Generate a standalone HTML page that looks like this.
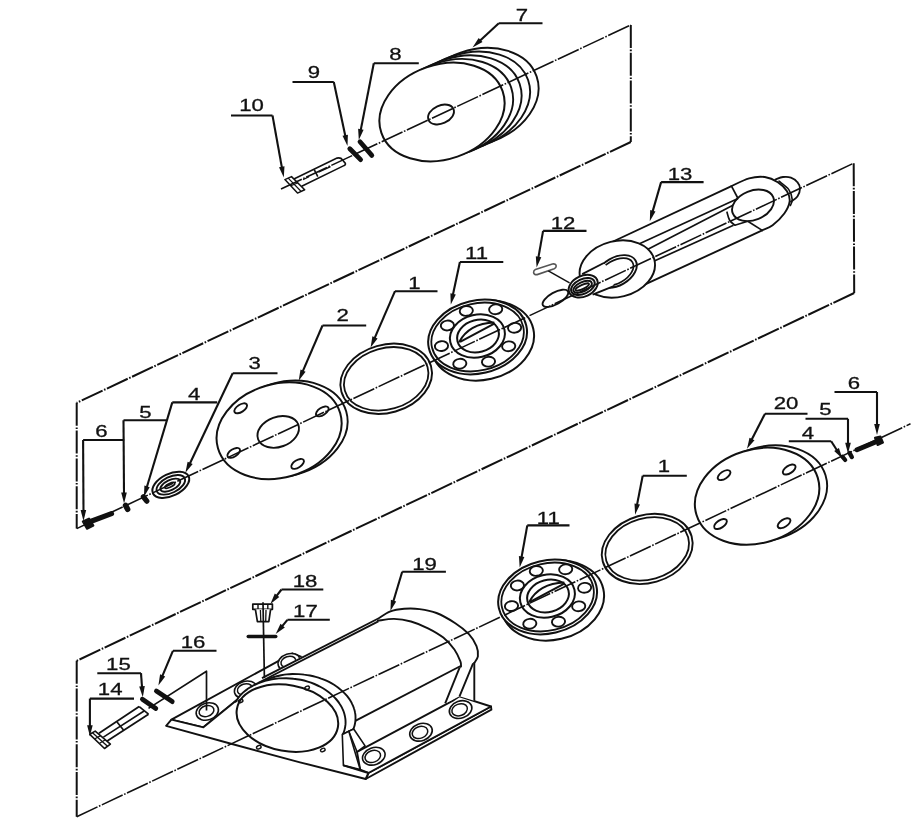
<!DOCTYPE html>
<html lang="en"><head><meta charset="utf-8"><title>Exploded view</title>
<style>html,body{margin:0;padding:0;background:#fff}body{width:920px;height:823px;overflow:hidden}svg{display:block;filter:grayscale(1)}text{font-family:"Liberation Sans",sans-serif;font-size:16.8px;fill:#111;stroke:#111;stroke-width:.3px}</style>
</head><body>
<svg width="920" height="823" viewBox="0 0 920 823">
<rect width="920" height="823" fill="#fff"/>
<g id="top">
<ellipse cx="476" cy="97.2" rx="64.1" ry="47.2" transform="rotate(-19 476 97.2)" fill="#fff" stroke="#111" stroke-width="1.9"/>
<ellipse cx="467.5" cy="100.9" rx="64.1" ry="47.2" transform="rotate(-19 467.5 100.9)" fill="#fff" stroke="#111" stroke-width="1.9"/>
<ellipse cx="459" cy="104.6" rx="64.1" ry="47.2" transform="rotate(-19 459 104.6)" fill="#fff" stroke="#111" stroke-width="1.9"/>
<ellipse cx="450.5" cy="108.3" rx="64.1" ry="47.2" transform="rotate(-19 450.5 108.3)" fill="#fff" stroke="#111" stroke-width="1.9"/>
<ellipse cx="442" cy="112" rx="64.1" ry="47.2" transform="rotate(-19 442 112)" fill="#fff" stroke="#111" stroke-width="2"/>
<ellipse cx="441" cy="114.5" rx="13.6" ry="9" transform="rotate(-24 441 114.5)" fill="none" stroke="#111" stroke-width="1.9"/>
<line x1="349.8" y1="148.8" x2="360.6" y2="159.6" stroke="#111" stroke-width="4.8" stroke-linecap="round"/>
<line x1="360" y1="141.8" x2="371.8" y2="155.4" stroke="#111" stroke-width="4.8" stroke-linecap="round"/>
<path d="M284.9 179.6 L291.5 176.6 L304.7 189.8 L297.5 193.1 Z" fill="none" stroke="#111" stroke-width="1.5" stroke-linejoin="round"/>
<line x1="288.2" y1="178.1" x2="301.2" y2="191.5" stroke="#111" stroke-width="1.2"/>
<line x1="291" y1="185.8" x2="298" y2="182.8" stroke="#111" stroke-width="1.2"/>
<path d="M293.9 179 L337 158.1 Q340.8 157.2 342.6 160 L345.4 163.4 Q345.8 164.8 344.4 165.4 L301.7 186.2" fill="none" stroke="#111" stroke-width="1.6"/>
<line x1="314.2" y1="169.6" x2="317.8" y2="176.6" stroke="#111" stroke-width="1.6"/>
<line x1="318.5" y1="172.2" x2="330.5" y2="166.6" stroke="#111" stroke-width="1.4"/>
<line x1="303" y1="179.6" x2="309" y2="176.8" stroke="#111" stroke-width="1.2"/>
<text transform="translate(522 21.4) scale(1.32 1)" text-anchor="middle">7</text>
<line x1="498.8" y1="23.2" x2="542.5" y2="23.2" stroke="#111" stroke-width="2.1"/>
<line x1="498.8" y1="23.2" x2="479.1" y2="41.4" stroke="#111" stroke-width="2.1"/>
<path d="M472.5 47.5 L478.7 38 L482.5 42.1 Z" fill="#111"/>
<text transform="translate(395.3 60.3) scale(1.32 1)" text-anchor="middle">8</text>
<line x1="373.8" y1="63.2" x2="418.8" y2="63.2" stroke="#111" stroke-width="2.1"/>
<line x1="373.8" y1="63.2" x2="360.5" y2="131.2" stroke="#111" stroke-width="2.1"/>
<path d="M358.8 140 L358.1 128.7 L363.6 129.7 Z" fill="#111"/>
<text transform="translate(314 77.6) scale(1.32 1)" text-anchor="middle">9</text>
<line x1="292.5" y1="82" x2="333.8" y2="82" stroke="#111" stroke-width="2.1"/>
<line x1="333.8" y1="82" x2="345.6" y2="137.2" stroke="#111" stroke-width="2.1"/>
<path d="M347.5 146 L342.5 135.8 L347.9 134.7 Z" fill="#111"/>
<text transform="translate(251.5 110.9) scale(1.32 1)" text-anchor="middle">10</text>
<line x1="231" y1="115.5" x2="272.5" y2="115.5" stroke="#111" stroke-width="2.1"/>
<line x1="272.5" y1="115.5" x2="282.1" y2="168.6" stroke="#111" stroke-width="2.1"/>
<path d="M283.8 177.5 L279 167.2 L284.5 166.2 Z" fill="#111"/>
</g>
<g id="mid">
<line x1="88.5" y1="522.3" x2="111.5" y2="513.6" stroke="#111" stroke-width="5.2" stroke-linecap="round"/>
<path d="M82.8 521.5 L89 518.6 L93.4 525.6 L87 528.8 Z" fill="#111" stroke="#111" stroke-width="2" stroke-linejoin="round"/>
<line x1="125.6" y1="505.4" x2="127.6" y2="509.2" stroke="#111" stroke-width="5.6" stroke-linecap="round"/>
<line x1="143.4" y1="496.8" x2="146.8" y2="501.2" stroke="#111" stroke-width="5.2" stroke-linecap="round"/>
<ellipse cx="170.8" cy="484.8" rx="19.8" ry="11" transform="rotate(-26 170.8 484.8)" fill="#fff" stroke="#111" stroke-width="2"/>
<ellipse cx="170.8" cy="484.8" rx="15.4" ry="8" transform="rotate(-26 170.8 484.8)" fill="none" stroke="#111" stroke-width="1.9"/>
<ellipse cx="170.3" cy="485.2" rx="10.8" ry="5" transform="rotate(-26 170.3 485.2)" fill="none" stroke="#111" stroke-width="1.9"/>
<ellipse cx="169.8" cy="485.4" rx="5.4" ry="1.8" transform="rotate(-26 169.8 485.4)" fill="none" stroke="#111" stroke-width="1.8"/>
<ellipse cx="285.1" cy="429" rx="63.6" ry="46.8" transform="rotate(-16 285.1 429)" fill="#fff" stroke="#111" stroke-width="1.9"/>
<ellipse cx="279.1" cy="430.8" rx="63.6" ry="46.8" transform="rotate(-16 279.1 430.8)" fill="#fff" stroke="#111" stroke-width="2"/>
<ellipse cx="278.2" cy="431.9" rx="21.4" ry="15" transform="rotate(-20 278.2 431.9)" fill="none" stroke="#111" stroke-width="1.9"/>
<ellipse cx="240.7" cy="408.3" rx="7.2" ry="3.7" transform="rotate(-33 240.7 408.3)" fill="none" stroke="#111" stroke-width="1.9"/>
<ellipse cx="322.3" cy="411.4" rx="7.2" ry="3.7" transform="rotate(-33 322.3 411.4)" fill="none" stroke="#111" stroke-width="1.9"/>
<ellipse cx="233.7" cy="452.9" rx="7.2" ry="3.7" transform="rotate(-33 233.7 452.9)" fill="none" stroke="#111" stroke-width="1.9"/>
<ellipse cx="297.6" cy="463.9" rx="7.2" ry="3.7" transform="rotate(-33 297.6 463.9)" fill="none" stroke="#111" stroke-width="1.9"/>
<ellipse cx="386.2" cy="378.8" rx="46.6" ry="34" transform="rotate(-16 386.2 378.8)" fill="#fff" stroke="#111" stroke-width="1.9"/>
<ellipse cx="386.2" cy="378.8" rx="43" ry="30.6" transform="rotate(-16 386.2 378.8)" fill="none" stroke="#111" stroke-width="1.8"/>
<ellipse cx="482.6" cy="340.5" rx="52" ry="39.3" transform="rotate(-13 482.6 340.5)" fill="#fff" stroke="#111" stroke-width="2"/>
<ellipse cx="477.6" cy="337" rx="50" ry="36.5" transform="rotate(-13 477.6 337)" fill="#fff" stroke="#111" stroke-width="2"/>
<ellipse cx="477.6" cy="337" rx="46.8" ry="33.6" transform="rotate(-13 477.6 337)" fill="none" stroke="#111" stroke-width="1.8"/>
<ellipse cx="466.3" cy="310.9" rx="6.6" ry="4.9" transform="rotate(-6 466.3 310.9)" fill="#fff" stroke="#111" stroke-width="1.9"/>
<ellipse cx="495.7" cy="309.3" rx="6.6" ry="4.9" transform="rotate(-6 495.7 309.3)" fill="#fff" stroke="#111" stroke-width="1.9"/>
<ellipse cx="514.6" cy="327.8" rx="6.6" ry="4.9" transform="rotate(-6 514.6 327.8)" fill="#fff" stroke="#111" stroke-width="1.9"/>
<ellipse cx="508.7" cy="346.3" rx="6.6" ry="4.9" transform="rotate(-6 508.7 346.3)" fill="#fff" stroke="#111" stroke-width="1.9"/>
<ellipse cx="488.5" cy="361.7" rx="6.6" ry="4.9" transform="rotate(-6 488.5 361.7)" fill="#fff" stroke="#111" stroke-width="1.9"/>
<ellipse cx="459.8" cy="363.7" rx="6.6" ry="4.9" transform="rotate(-6 459.8 363.7)" fill="#fff" stroke="#111" stroke-width="1.9"/>
<ellipse cx="441.5" cy="346.1" rx="6.6" ry="4.9" transform="rotate(-6 441.5 346.1)" fill="#fff" stroke="#111" stroke-width="1.9"/>
<ellipse cx="447.4" cy="325.5" rx="6.6" ry="4.9" transform="rotate(-6 447.4 325.5)" fill="#fff" stroke="#111" stroke-width="1.9"/>
<ellipse cx="477.4" cy="336" rx="27.8" ry="21.3" transform="rotate(-13 477.4 336)" fill="#fff" stroke="#111" stroke-width="2"/>
<ellipse cx="478" cy="336" rx="21.2" ry="16" transform="rotate(-15 478 336)" fill="none" stroke="#111" stroke-width="2"/>
<path d="M459.1 342.2 Q469.1 323.5 494.3 322.6" fill="none" stroke="#111" stroke-width="2"/>
<line x1="460.1" y1="341.8" x2="494.8" y2="323.4" stroke="#111" stroke-width="2"/>
<path d="M612 242 L731.5 186.1 L762.2 230.4 L641.3 286.1 Z" fill="#fff" stroke="none" stroke-width="0" stroke-linejoin="round"/>
<path d="M775.2 179.6 C776.5 179.2 780.4 177.3 783 177 C785.6 176.7 788.5 176.7 790.9 177.6 C793.3 178.5 795.9 180.3 797.4 182.2 C798.9 184 800 186.3 800 188.7 C800 191.1 798.9 194.3 797.4 196.5 C795.9 198.7 792 200.8 790.9 201.7" fill="none" stroke="#111" stroke-width="1.8" stroke-linecap="round"/>
<path d="M731.5 186.1 C734.4 184.8 743.6 179.8 749.1 178.3 C754.6 176.8 760 176.3 764.8 177 C769.6 177.7 774.1 179.8 777.8 182.2 C781.5 184.6 785 188.1 787 191.3 C789 194.6 790.1 198 789.6 201.7 C789.1 205.4 787.1 209.6 784.3 213.5 C781.5 217.4 776.3 222.4 772.6 225.2 C768.9 228 763.9 229.5 762.2 230.4" fill="#fff" stroke="#111" stroke-width="1.9" stroke-linecap="round"/>
<path d="M779 181.2 C780.6 182.6 786.6 186.6 788.8 189.6 C791 192.6 791.9 196.8 792.2 199.4 C792.5 202.1 790.7 204.5 790.4 205.5" fill="none" stroke="#111" stroke-width="1.6" stroke-linecap="round"/>
<ellipse cx="753" cy="205.3" rx="21.8" ry="14.6" transform="rotate(-22 753 205.3)" fill="none" stroke="#111" stroke-width="1.9"/>
<line x1="612" y1="242" x2="731.5" y2="186.1" stroke="#111" stroke-width="1.9"/>
<line x1="641.3" y1="286.1" x2="762.2" y2="230.4" stroke="#111" stroke-width="1.9"/>
<line x1="640" y1="243.4" x2="738" y2="198.5" stroke="#111" stroke-width="1.7"/>
<line x1="646" y1="250.3" x2="733" y2="205.2" stroke="#111" stroke-width="1.7"/>
<line x1="653.7" y1="261.3" x2="733.5" y2="225.2" stroke="#111" stroke-width="1.7"/>
<line x1="731.5" y1="186.1" x2="738" y2="198.5" stroke="#111" stroke-width="1.7"/>
<path d="M727 212.2 C727.4 213.5 728.3 218 729.6 220.2 C730.9 222.4 733.9 224.4 734.8 225.2" fill="none" stroke="#111" stroke-width="1.7" stroke-linecap="round"/>
<line x1="734.8" y1="225.2" x2="747.8" y2="221.3" stroke="#111" stroke-width="1.7"/>
<line x1="747.8" y1="221.3" x2="762.2" y2="230.4" stroke="#111" stroke-width="1.7"/>
<ellipse cx="617.3" cy="269" rx="38.2" ry="28" transform="rotate(-14 617.3 269)" fill="#fff" stroke="#111" stroke-width="1.9"/>
<ellipse cx="616.5" cy="271.5" rx="22" ry="14" transform="rotate(-30 616.5 271.5)" fill="#fff" stroke="#111" stroke-width="1.9"/>
<ellipse cx="615.9" cy="271.9" rx="19.2" ry="11.4" transform="rotate(-30 615.9 271.9)" fill="none" stroke="#111" stroke-width="1.7"/>
<path d="M582.2 274.1 L603.4 263.2 L614 272 L613.5 286.4 L592.6 294.8 Z" fill="#fff" stroke="none" stroke-width="0" stroke-linejoin="round"/>
<line x1="582.2" y1="274.1" x2="603.8" y2="263" stroke="#111" stroke-width="1.9"/>
<line x1="592.6" y1="294.6" x2="614.4" y2="285.8" stroke="#111" stroke-width="1.9"/>
<ellipse cx="555.4" cy="298.3" rx="14.3" ry="5.9" transform="rotate(-29 555.4 298.3)" fill="#fff" stroke="#111" stroke-width="1.9"/>
<ellipse cx="583.2" cy="286.2" rx="15.3" ry="10.3" transform="rotate(-25 583.2 286.2)" fill="#fff" stroke="#111" stroke-width="2"/>
<ellipse cx="582.9" cy="286.5" rx="12.6" ry="7.4" transform="rotate(-25 582.9 286.5)" fill="none" stroke="#111" stroke-width="2"/>
<ellipse cx="582.6" cy="286.8" rx="10" ry="4.7" transform="rotate(-25 582.6 286.8)" fill="none" stroke="#111" stroke-width="1.9"/>
<ellipse cx="582.3" cy="287" rx="7.4" ry="2" transform="rotate(-25 582.3 287)" fill="none" stroke="#111" stroke-width="1.8"/>
<path d="M535.4 269.6 L552.4 264 Q556 263.4 556.2 266 Q556.2 268 554.2 268.8 L537.2 274.6 Q533.8 275 533.6 272.4 Q533.6 270.4 535.4 269.6 Z" fill="#fff" stroke="#555" stroke-width="1.6"/>
<line x1="548.3" y1="270.9" x2="569.6" y2="282.8" stroke="#111" stroke-width="1.5"/>
<text transform="translate(101.3 436.8) scale(1.32 1)" text-anchor="middle">6</text>
<line x1="83.1" y1="440" x2="124.2" y2="440" stroke="#111" stroke-width="2.1"/>
<line x1="83.1" y1="440" x2="83.5" y2="512" stroke="#111" stroke-width="2.1"/>
<path d="M83.5 521 L80.6 510 L86.2 510 Z" fill="#111"/>
<text transform="translate(145.5 418.2) scale(1.32 1)" text-anchor="middle">5</text>
<line x1="123.5" y1="420.3" x2="166.4" y2="420.3" stroke="#111" stroke-width="2.1"/>
<line x1="123.5" y1="420.3" x2="124" y2="494.6" stroke="#111" stroke-width="2.1"/>
<path d="M124.1 503.6 L121.2 492.6 L126.8 492.6 Z" fill="#111"/>
<text transform="translate(194.2 399.6) scale(1.32 1)" text-anchor="middle">4</text>
<line x1="172.3" y1="402.4" x2="217.2" y2="402.4" stroke="#111" stroke-width="2.1"/>
<line x1="172.3" y1="402.4" x2="146.5" y2="488.3" stroke="#111" stroke-width="2.1"/>
<path d="M143.9 496.9 L144.4 485.6 L149.7 487.2 Z" fill="#111"/>
<text transform="translate(254.7 369) scale(1.32 1)" text-anchor="middle">3</text>
<line x1="232.7" y1="373.3" x2="277.5" y2="373.3" stroke="#111" stroke-width="2.1"/>
<line x1="232.7" y1="373.3" x2="189.3" y2="464.7" stroke="#111" stroke-width="2.1"/>
<path d="M185.4 472.8 L187.6 461.7 L192.7 464.1 Z" fill="#111"/>
<text transform="translate(342.7 321.4) scale(1.32 1)" text-anchor="middle">2</text>
<line x1="322.5" y1="325.5" x2="366.2" y2="325.5" stroke="#111" stroke-width="2.1"/>
<line x1="322.5" y1="325.5" x2="302.3" y2="372.4" stroke="#111" stroke-width="2.1"/>
<path d="M298.7 380.7 L300.5 369.5 L305.6 371.7 Z" fill="#111"/>
<text transform="translate(414.4 288.9) scale(1.32 1)" text-anchor="middle">1</text>
<line x1="395" y1="291.2" x2="437.5" y2="291.2" stroke="#111" stroke-width="2.1"/>
<line x1="395" y1="291.2" x2="374.2" y2="339.1" stroke="#111" stroke-width="2.1"/>
<path d="M370.6 347.4 L372.4 336.2 L377.6 338.4 Z" fill="#111"/>
<text transform="translate(476.6 259) scale(1.32 1)" text-anchor="middle">11</text>
<line x1="459.9" y1="262" x2="503.3" y2="262" stroke="#111" stroke-width="2.1"/>
<line x1="459.9" y1="262" x2="452.7" y2="295.8" stroke="#111" stroke-width="2.1"/>
<path d="M450.8 304.6 L450.4 293.3 L455.8 294.4 Z" fill="#111"/>
<text transform="translate(563 228.5) scale(1.32 1)" text-anchor="middle">12</text>
<line x1="543.1" y1="230.9" x2="586.5" y2="230.9" stroke="#111" stroke-width="2.1"/>
<line x1="543.1" y1="230.9" x2="538.2" y2="258.6" stroke="#111" stroke-width="2.1"/>
<path d="M536.6 267.5 L535.8 256.2 L541.3 257.2 Z" fill="#111"/>
<text transform="translate(680 179.6) scale(1.32 1)" text-anchor="middle">13</text>
<line x1="661.1" y1="182.1" x2="703.6" y2="182.1" stroke="#111" stroke-width="2.1"/>
<line x1="661.1" y1="182.1" x2="652.3" y2="212.6" stroke="#111" stroke-width="2.1"/>
<path d="M649.8 221.2 L650.2 209.9 L655.5 211.4 Z" fill="#111"/>
</g>
<g id="bot">
<ellipse cx="764.9" cy="493.8" rx="63.4" ry="46.8" transform="rotate(-17 764.9 493.8)" fill="#fff" stroke="#111" stroke-width="1.9"/>
<ellipse cx="757.1" cy="496.2" rx="63.4" ry="46.8" transform="rotate(-17 757.1 496.2)" fill="#fff" stroke="#111" stroke-width="2"/>
<ellipse cx="724.1" cy="475.1" rx="7.2" ry="3.7" transform="rotate(-33 724.1 475.1)" fill="none" stroke="#111" stroke-width="1.9"/>
<ellipse cx="789.2" cy="469.5" rx="7.2" ry="3.7" transform="rotate(-33 789.2 469.5)" fill="none" stroke="#111" stroke-width="1.9"/>
<ellipse cx="720.5" cy="524" rx="7.2" ry="3.7" transform="rotate(-33 720.5 524)" fill="none" stroke="#111" stroke-width="1.9"/>
<ellipse cx="784.1" cy="523.2" rx="7.2" ry="3.7" transform="rotate(-33 784.1 523.2)" fill="none" stroke="#111" stroke-width="1.9"/>
<line x1="857" y1="449.8" x2="878" y2="441" stroke="#111" stroke-width="4.8" stroke-linecap="round"/>
<path d="M875 437.8 L880.4 436.4 L883 442.6 L877.6 445 Z" fill="#111" stroke="#111" stroke-width="2" stroke-linejoin="round"/>
<line x1="849.6" y1="453" x2="851.8" y2="457" stroke="#111" stroke-width="4.4" stroke-linecap="round"/>
<line x1="842.4" y1="456.6" x2="845.2" y2="460" stroke="#111" stroke-width="4.2" stroke-linecap="round"/>
<ellipse cx="647.2" cy="548.9" rx="46.2" ry="34" transform="rotate(-16 647.2 548.9)" fill="#fff" stroke="#111" stroke-width="1.9"/>
<ellipse cx="647.2" cy="548.9" rx="42.6" ry="30.6" transform="rotate(-16 647.2 548.9)" fill="none" stroke="#111" stroke-width="1.8"/>
<ellipse cx="552.6" cy="600.5" rx="52" ry="39.3" transform="rotate(-13 552.6 600.5)" fill="#fff" stroke="#111" stroke-width="2"/>
<ellipse cx="547.6" cy="597" rx="50" ry="36.5" transform="rotate(-13 547.6 597)" fill="#fff" stroke="#111" stroke-width="2"/>
<ellipse cx="547.6" cy="597" rx="46.8" ry="33.6" transform="rotate(-13 547.6 597)" fill="none" stroke="#111" stroke-width="1.8"/>
<ellipse cx="536.3" cy="570.9" rx="6.6" ry="4.9" transform="rotate(-6 536.3 570.9)" fill="#fff" stroke="#111" stroke-width="1.9"/>
<ellipse cx="565.7" cy="569.3" rx="6.6" ry="4.9" transform="rotate(-6 565.7 569.3)" fill="#fff" stroke="#111" stroke-width="1.9"/>
<ellipse cx="584.6" cy="587.8" rx="6.6" ry="4.9" transform="rotate(-6 584.6 587.8)" fill="#fff" stroke="#111" stroke-width="1.9"/>
<ellipse cx="578.7" cy="606.3" rx="6.6" ry="4.9" transform="rotate(-6 578.7 606.3)" fill="#fff" stroke="#111" stroke-width="1.9"/>
<ellipse cx="558.5" cy="621.7" rx="6.6" ry="4.9" transform="rotate(-6 558.5 621.7)" fill="#fff" stroke="#111" stroke-width="1.9"/>
<ellipse cx="529.8" cy="623.7" rx="6.6" ry="4.9" transform="rotate(-6 529.8 623.7)" fill="#fff" stroke="#111" stroke-width="1.9"/>
<ellipse cx="511.5" cy="606.1" rx="6.6" ry="4.9" transform="rotate(-6 511.5 606.1)" fill="#fff" stroke="#111" stroke-width="1.9"/>
<ellipse cx="517.4" cy="585.5" rx="6.6" ry="4.9" transform="rotate(-6 517.4 585.5)" fill="#fff" stroke="#111" stroke-width="1.9"/>
<ellipse cx="547.4" cy="596" rx="27.8" ry="21.3" transform="rotate(-13 547.4 596)" fill="#fff" stroke="#111" stroke-width="2"/>
<ellipse cx="548" cy="596" rx="21.2" ry="16" transform="rotate(-15 548 596)" fill="none" stroke="#111" stroke-width="2"/>
<path d="M529.1 602.2 Q539.1 583.5 564.3 582.6" fill="none" stroke="#111" stroke-width="2"/>
<line x1="530.1" y1="601.8" x2="564.8" y2="583.4" stroke="#111" stroke-width="2"/>
<path d="M171.4 719.7 L292.4 653.3 L303.5 657.6 L236.6 700.3 L203.4 727.3 Z" fill="#fff" stroke="#111" stroke-width="1.9" stroke-linejoin="round"/>
<ellipse cx="289.2" cy="662.2" rx="11.4" ry="8.4" transform="rotate(-18 289.2 662.2)" fill="#fff" stroke="#111" stroke-width="1.6"/>
<ellipse cx="288.4" cy="661.8" rx="7.6" ry="5.3" transform="rotate(-18 288.4 661.8)" fill="none" stroke="#111" stroke-width="1.5"/>
<ellipse cx="245.6" cy="689.7" rx="11.4" ry="8.4" transform="rotate(-18 245.6 689.7)" fill="#fff" stroke="#111" stroke-width="1.6"/>
<ellipse cx="244.8" cy="689.3" rx="7.6" ry="5.3" transform="rotate(-18 244.8 689.3)" fill="none" stroke="#111" stroke-width="1.5"/>
<ellipse cx="207.3" cy="711.5" rx="11.4" ry="8.4" transform="rotate(-18 207.3 711.5)" fill="#fff" stroke="#111" stroke-width="1.6"/>
<ellipse cx="206.5" cy="711.1" rx="7.6" ry="5.3" transform="rotate(-18 206.5 711.1)" fill="none" stroke="#111" stroke-width="1.5"/>
<path d="M365.7 779 L368.4 773 L491 706.5 L491.4 709.6 Z" fill="#fff" stroke="#111" stroke-width="1.9" stroke-linejoin="round"/>
<path d="M357 751.8 L452.5 700.9 L459.5 696.3 L491 706.5 L368.4 773 L360.2 769.6 Z" fill="#fff" stroke="#111" stroke-width="1.9" stroke-linejoin="round"/>
<ellipse cx="373.8" cy="756.2" rx="11.6" ry="8.5" transform="rotate(-20 373.8 756.2)" fill="#fff" stroke="#111" stroke-width="1.6"/>
<ellipse cx="372.8" cy="756.4" rx="8" ry="5.8" transform="rotate(-20 372.8 756.4)" fill="none" stroke="#111" stroke-width="1.5"/>
<ellipse cx="421" cy="732.2" rx="11.6" ry="8.5" transform="rotate(-20 421 732.2)" fill="#fff" stroke="#111" stroke-width="1.6"/>
<ellipse cx="420" cy="732.4" rx="8" ry="5.8" transform="rotate(-20 420 732.4)" fill="none" stroke="#111" stroke-width="1.5"/>
<ellipse cx="460.6" cy="709.6" rx="11.6" ry="8.5" transform="rotate(-20 460.6 709.6)" fill="#fff" stroke="#111" stroke-width="1.6"/>
<ellipse cx="459.6" cy="709.8" rx="8" ry="5.8" transform="rotate(-20 459.6 709.8)" fill="none" stroke="#111" stroke-width="1.5"/>
<path d="M460.4 665.7 L473.1 663.1 L474.3 663.1 L474.3 700.8 L459.5 696.3 L445.2 703.4 Z" fill="#fff" stroke="none" stroke-width="0" stroke-linejoin="round"/>
<line x1="460.4" y1="665.7" x2="445.2" y2="703.4" stroke="#111" stroke-width="1.9"/>
<line x1="473.1" y1="663.4" x2="459.5" y2="696.3" stroke="#111" stroke-width="1.9"/>
<line x1="474.3" y1="662" x2="474.3" y2="700.8" stroke="#111" stroke-width="1.9"/>
<path d="M378.7 618.3 C400.7 606.4 385.6 613.2 389.8 611.6 C394.1 610 399.2 609.2 404.2 608.8 C409.1 608.4 414.1 608.4 419.5 609.1 C424.9 609.8 430.5 610.6 436.5 613 C442.5 615.4 449.9 619.7 455.3 623.2 C460.7 626.7 465.4 630.4 468.9 634.2 C472.4 638 475 642.4 476.5 646.1 C478 649.8 478.3 653.4 477.9 656.3 C477.5 659.2 476.8 661.7 474 663.4 C471.2 665.1 480.8 656.9 461 666.5 C441.2 676.1 382.1 715.3 355.3 720.9 C328.5 726.5 316.2 706.3 300 700 C283.8 693.7 244.9 696.6 258 683 C271.1 669.4 356.7 630.2 378.7 618.3 Z" fill="#fff" stroke="none" stroke-width="0" stroke-linecap="round"/>
<path d="M258 683 L378.5 621.5 L440 632 L461 666 L355.3 720.9 Z" fill="#fff" stroke="none" stroke-width="0" stroke-linejoin="round"/>
<path d="M378.7 618.3 C380.6 617.2 385.6 613.2 389.8 611.6 C394.1 610 399.2 609.2 404.2 608.8 C409.1 608.4 414.1 608.4 419.5 609.1 C424.9 609.8 430.5 610.6 436.5 613 C442.5 615.4 449.9 619.7 455.3 623.2 C460.7 626.7 465.4 630.4 468.9 634.2 C472.4 638 475 642.4 476.5 646.1 C478 649.8 478.3 653.4 477.9 656.3 C477.5 659.2 474.6 662.2 474 663.4" fill="none" stroke="#111" stroke-width="1.9" stroke-linecap="round"/>
<path d="M377.9 620.8 C380.6 620.5 388.5 618.8 394 618.9 C399.5 619 405.3 619.9 411 621.5 C416.7 623.1 422.6 625.6 428 628.3 C433.4 631 438.9 634.1 443.3 637.6 C447.7 641.1 451.5 645.5 454.4 649.5 C457.2 653.5 459.3 658.6 460.4 661.4 C461.5 664.2 460.9 665.6 461 666.5" fill="none" stroke="#111" stroke-width="1.9" stroke-linecap="round"/>
<line x1="262" y1="678.2" x2="378.3" y2="618.5" stroke="#111" stroke-width="1.9"/>
<line x1="258" y1="683" x2="378.3" y2="621.3" stroke="#111" stroke-width="1.9"/>
<line x1="355.3" y1="720.9" x2="460.6" y2="666" stroke="#111" stroke-width="1.9"/>
<ellipse cx="298.7" cy="715.2" rx="57" ry="41" transform="rotate(6 298.7 715.2)" fill="#fff" stroke="none" stroke-width="0"/>
<path d="M265.5 680.1 C266.4 679.8 268.8 678.7 270.5 678.1 C272.1 677.5 273.9 676.9 275.7 676.5 C277.5 676 279.3 675.6 281.1 675.2 C283 674.9 284.9 674.6 286.8 674.4 C288.7 674.2 290.6 674.1 292.5 674 C294.5 674 296.4 674 298.4 674.1 C300.3 674.2 302.3 674.3 304.2 674.6 C306.1 674.8 308.1 675.1 310 675.5 C311.9 675.9 313.8 676.3 315.7 676.8 C317.5 677.3 319.3 677.9 321.1 678.6 C322.9 679.2 324.7 679.9 326.4 680.7 C328.1 681.5 329.7 682.3 331.3 683.2 C332.9 684.1 334.5 685 335.9 686 C337.4 687 338.8 688.1 340.1 689.2 C341.5 690.2 342.7 691.4 343.9 692.6 C345.1 693.7 346.2 695 347.2 696.2 C348.2 697.5 349.2 698.8 350 700.1 C350.8 701.4 351.6 702.7 352.2 704.1 C352.9 705.5 353.5 706.8 353.9 708.2 C354.4 709.6 354.8 711 355 712.4 C355.3 713.8 355.5 715.3 355.5 716.7 C355.6 718.1 355.5 719.5 355.4 720.9 C355.3 722.3 355 723.7 354.7 725 C354.4 726.4 353.6 728.4 353.4 729.1" fill="none" stroke="#111" stroke-width="1.9" stroke-linecap="round"/>
<path d="M236 700 L300 690 L346 720 L342.3 734.5 L343.4 765.4 L368.4 773 L365.7 779 L166.1 725.8 L171.4 719.7 L203.4 727.3 Z" fill="#fff" stroke="none" stroke-width="0" stroke-linejoin="round"/>
<ellipse cx="288.7" cy="719.4" rx="57" ry="40" transform="rotate(6 288.7 719.4)" fill="#fff" stroke="none" stroke-width="0"/>
<path d="M232 703 L240 700 L342 736 L351 760 L351 775 L232 745 Z" fill="#fff" stroke="none" stroke-width="0" stroke-linejoin="round"/>
<path d="M235.7 701.8 C236.3 701 237.7 698.6 238.8 697.2 C240 695.7 241.3 694.3 242.7 692.9 C244.1 691.6 245.7 690.3 247.4 689.1 C249 687.9 250.8 686.8 252.7 685.8 C254.6 684.7 256.6 683.8 258.6 683 C260.7 682.2 262.9 681.4 265.1 680.8 C267.3 680.2 269.5 679.7 271.9 679.3 C274.2 678.9 276.6 678.6 278.9 678.4 C281.3 678.2 283.8 678.2 286.2 678.2 C288.6 678.2 291.1 678.4 293.5 678.7 C295.9 678.9 298.3 679.3 300.7 679.8 C303.1 680.3 305.4 680.9 307.7 681.6 C310 682.3 312.2 683.1 314.4 684 C316.6 684.9 318.7 685.9 320.7 687 C322.7 688.1 324.6 689.3 326.4 690.5 C328.2 691.8 330 693.1 331.6 694.6 C333.1 696 334.6 697.4 336 699 C337.3 700.5 338.6 702.1 339.6 703.7 C340.7 705.3 341.7 707 342.4 708.7 C343.2 710.4 343.9 712.1 344.4 713.9 C344.9 715.6 345.2 717.4 345.4 719.2 C345.6 720.9 345.6 722.7 345.5 724.4 C345.3 726.2 345.1 727.9 344.6 729.6 C344.2 731.3 343.1 733.8 342.9 734.6" fill="none" stroke="#111" stroke-width="1.9" stroke-linecap="round"/>
<path d="M171.4 719.7 L203.4 727.3 L236.6 700.3" fill="none" stroke="#111" stroke-width="1.9" stroke-linejoin="round"/>
<line x1="342.3" y1="734.5" x2="353.7" y2="729.2" stroke="#111" stroke-width="1.9"/>
<ellipse cx="287.4" cy="718.1" rx="51.3" ry="33" transform="rotate(10.5 287.4 718.1)" fill="#fff" stroke="#111" stroke-width="2"/>
<ellipse cx="240.6" cy="701" rx="2.4" ry="1.6" transform="rotate(-25 240.6 701)" fill="none" stroke="#111" stroke-width="1.4"/>
<ellipse cx="307.1" cy="687.9" rx="2.4" ry="1.6" transform="rotate(-25 307.1 687.9)" fill="none" stroke="#111" stroke-width="1.4"/>
<ellipse cx="258.8" cy="747.2" rx="2.4" ry="1.6" transform="rotate(-25 258.8 747.2)" fill="none" stroke="#111" stroke-width="1.4"/>
<ellipse cx="322.8" cy="750" rx="2.4" ry="1.6" transform="rotate(-25 322.8 750)" fill="none" stroke="#111" stroke-width="1.4"/>
<path d="M348.8 731.2 L353.7 729 L365.1 745.9 L357 751.8 Z" fill="#fff" stroke="#111" stroke-width="1.6" stroke-linejoin="round"/>
<path d="M342.3 734.5 L348.8 731.2 L360.2 769.6 L343.4 765.4 Z" fill="#fff" stroke="#111" stroke-width="1.6" stroke-linejoin="round"/>
<path d="M171.4 719.7 L166.1 725.8 L232 744 L300 762.3 L365.7 779 L368.4 773" fill="none" stroke="#111" stroke-width="1.9" stroke-linejoin="round"/>
<line x1="343.4" y1="765.4" x2="368.4" y2="773" stroke="#111" stroke-width="1.9"/>
<path d="M252.8 604.1 L272.4 604.1 L272.4 609.3 L252.8 609.3 Z" fill="#fff" stroke="#111" stroke-width="1.7" stroke-linejoin="round"/>
<line x1="258" y1="604.1" x2="258" y2="609.3" stroke="#111" stroke-width="1.4"/>
<line x1="267.8" y1="604.1" x2="267.8" y2="609.3" stroke="#111" stroke-width="1.4"/>
<path d="M255.4 609.3 L257.4 621.7 L268.8 621.7 L270.6 609.3" fill="#fff" stroke="#111" stroke-width="1.7" stroke-linejoin="round"/>
<line x1="260.4" y1="610" x2="260.8" y2="621.7" stroke="#111" stroke-width="1.3"/>
<line x1="266" y1="610" x2="265.7" y2="621.7" stroke="#111" stroke-width="1.3"/>
<line x1="263" y1="602.2" x2="264.4" y2="678" stroke="#111" stroke-width="1.7"/>
<line x1="248.3" y1="636.5" x2="275.7" y2="636.5" stroke="#111" stroke-width="3.6" stroke-linecap="round"/>
<line x1="142.4" y1="699.2" x2="155.8" y2="708.4" stroke="#111" stroke-width="4.8" stroke-linecap="round"/>
<line x1="156.4" y1="691" x2="172.2" y2="701.6" stroke="#111" stroke-width="4.8" stroke-linecap="round"/>
<path d="M148.5 708.4 L206.5 671.2 L206.5 710.6" fill="none" stroke="#111" stroke-width="1.7" stroke-linejoin="round"/>
<path d="M89.8 734.3 L95.2 731.1 L110.4 744.1 L104.5 748.5 Z" fill="none" stroke="#111" stroke-width="1.6" stroke-linejoin="round"/>
<line x1="92.5" y1="732.7" x2="107.5" y2="746.3" stroke="#111" stroke-width="1.3"/>
<line x1="95" y1="738.8" x2="100.6" y2="735.6" stroke="#111" stroke-width="1.3"/>
<line x1="99.6" y1="743.3" x2="105.4" y2="739.8" stroke="#111" stroke-width="1.3"/>
<line x1="99" y1="733.3" x2="139.2" y2="706.6" stroke="#111" stroke-width="1.8"/>
<line x1="103.4" y1="737.1" x2="144.1" y2="711" stroke="#111" stroke-width="1.6"/>
<line x1="107.2" y1="740.9" x2="148.5" y2="714.2" stroke="#111" stroke-width="1.8"/>
<line x1="139.2" y1="706.6" x2="148.5" y2="714.2" stroke="#111" stroke-width="1.7"/>
<line x1="117" y1="722" x2="123.5" y2="730" stroke="#111" stroke-width="1.7"/>
<text transform="translate(110.2 694.9) scale(1.32 1)" text-anchor="middle">14</text>
<line x1="89.9" y1="698.6" x2="134" y2="698.6" stroke="#111" stroke-width="2.1"/>
<line x1="89.9" y1="698.6" x2="89.9" y2="727.2" stroke="#111" stroke-width="2.1"/>
<path d="M89.9 736.2 L87.1 725.2 L92.7 725.2 Z" fill="#111"/>
<text transform="translate(118.4 669.7) scale(1.32 1)" text-anchor="middle">15</text>
<line x1="97.3" y1="673.2" x2="141" y2="673.2" stroke="#111" stroke-width="2.1"/>
<line x1="141" y1="673.2" x2="142.1" y2="688.3" stroke="#111" stroke-width="2.1"/>
<path d="M142.8 697.3 L139.2 686.5 L144.8 686.1 Z" fill="#111"/>
<text transform="translate(193 648.1) scale(1.32 1)" text-anchor="middle">16</text>
<line x1="172.9" y1="650.8" x2="216.5" y2="650.8" stroke="#111" stroke-width="2.1"/>
<line x1="172.9" y1="650.8" x2="161.9" y2="677.2" stroke="#111" stroke-width="2.1"/>
<path d="M158.4 685.5 L160.1 674.3 L165.2 676.4 Z" fill="#111"/>
<text transform="translate(305.4 616.8) scale(1.32 1)" text-anchor="middle">17</text>
<line x1="287.4" y1="619.8" x2="329.8" y2="619.8" stroke="#111" stroke-width="2.1"/>
<line x1="287.4" y1="619.8" x2="281.4" y2="627.1" stroke="#111" stroke-width="2.1"/>
<path d="M275.7 634.1 L280.5 623.8 L284.8 627.4 Z" fill="#111"/>
<text transform="translate(305 587.4) scale(1.32 1)" text-anchor="middle">18</text>
<line x1="281.5" y1="589.5" x2="323.3" y2="589.5" stroke="#111" stroke-width="2.1"/>
<line x1="281.5" y1="589.5" x2="275.8" y2="596.9" stroke="#111" stroke-width="2.1"/>
<path d="M270.4 604.1 L274.8 593.6 L279.3 597 Z" fill="#111"/>
<text transform="translate(424.6 569.5) scale(1.32 1)" text-anchor="middle">19</text>
<line x1="402.2" y1="571.7" x2="445.9" y2="571.7" stroke="#111" stroke-width="2.1"/>
<line x1="402.2" y1="571.7" x2="393" y2="602.5" stroke="#111" stroke-width="2.1"/>
<path d="M390.4 611.1 L390.9 599.8 L396.2 601.4 Z" fill="#111"/>
<text transform="translate(548.2 524) scale(1.32 1)" text-anchor="middle">11</text>
<line x1="527.3" y1="525.4" x2="569.5" y2="525.4" stroke="#111" stroke-width="2.1"/>
<line x1="527.3" y1="525.4" x2="521.3" y2="558.5" stroke="#111" stroke-width="2.1"/>
<path d="M519.7 567.4 L518.9 556.1 L524.4 557.1 Z" fill="#111"/>
<text transform="translate(664 472.4) scale(1.32 1)" text-anchor="middle">1</text>
<line x1="642.7" y1="475.7" x2="686.8" y2="475.7" stroke="#111" stroke-width="2.1"/>
<line x1="642.7" y1="475.7" x2="636.8" y2="505.9" stroke="#111" stroke-width="2.1"/>
<path d="M635.1 514.7 L634.5 503.4 L640 504.4 Z" fill="#111"/>
<text transform="translate(786 409.3) scale(1.32 1)" text-anchor="middle">20</text>
<line x1="765" y1="413.7" x2="807.5" y2="413.7" stroke="#111" stroke-width="2.1"/>
<line x1="765" y1="413.7" x2="751.1" y2="440.7" stroke="#111" stroke-width="2.1"/>
<path d="M747 448.8 L749.5 437.7 L754.5 440.2 Z" fill="#111"/>
<text transform="translate(807.9 438.8) scale(1.32 1)" text-anchor="middle">4</text>
<line x1="788.8" y1="441.2" x2="831.2" y2="441.2" stroke="#111" stroke-width="2.1"/>
<line x1="831.2" y1="441.2" x2="837.6" y2="451.2" stroke="#111" stroke-width="2.1"/>
<path d="M842.5 458.8 L834.2 451 L838.9 448 Z" fill="#111"/>
<text transform="translate(825.5 414.8) scale(1.32 1)" text-anchor="middle">5</text>
<line x1="805.5" y1="418.8" x2="848" y2="418.8" stroke="#111" stroke-width="2.1"/>
<line x1="848" y1="418.8" x2="848" y2="444.8" stroke="#111" stroke-width="2.1"/>
<path d="M848 453.8 L845.2 442.8 L850.8 442.8 Z" fill="#111"/>
<text transform="translate(854 388.8) scale(1.32 1)" text-anchor="middle">6</text>
<line x1="834.5" y1="392" x2="877" y2="392" stroke="#111" stroke-width="2.1"/>
<line x1="877" y1="392" x2="877" y2="426" stroke="#111" stroke-width="2.1"/>
<path d="M877 435 L874.2 424 L879.8 424 Z" fill="#111"/>
</g>
<g id="frame">
<line x1="281" y1="189" x2="630.8" y2="25" stroke="#111" stroke-width="1.6" stroke-dasharray="23 1.6 1.6 1.6"/>
<line x1="630.8" y1="25" x2="630.8" y2="142" stroke="#111" stroke-width="2" stroke-dasharray="23 1.6 1.6 1.6"/>
<line x1="630.8" y1="142" x2="76.7" y2="402.8" stroke="#111" stroke-width="2" stroke-dasharray="23 1.6 1.6 1.6"/>
<line x1="76.7" y1="402.8" x2="76.7" y2="528.6" stroke="#111" stroke-width="2" stroke-dasharray="23 1.6 1.6 1.6"/>
<line x1="76.7" y1="528.6" x2="853.7" y2="163.2" stroke="#111" stroke-width="1.6" stroke-dasharray="23 1.6 1.6 1.6"/>
<line x1="853.7" y1="163.2" x2="854.2" y2="293" stroke="#111" stroke-width="2" stroke-dasharray="23 1.6 1.6 1.6"/>
<line x1="854.2" y1="293" x2="76.7" y2="660.8" stroke="#111" stroke-width="2" stroke-dasharray="23 1.6 1.6 1.6"/>
<line x1="76.7" y1="660.8" x2="76.7" y2="816.7" stroke="#111" stroke-width="2" stroke-dasharray="23 1.6 1.6 1.6"/>
<line x1="76.7" y1="816.7" x2="910.5" y2="423.8" stroke="#111" stroke-width="1.6" stroke-dasharray="23 1.6 1.6 1.6"/>
</g>
</svg>
</body></html>
